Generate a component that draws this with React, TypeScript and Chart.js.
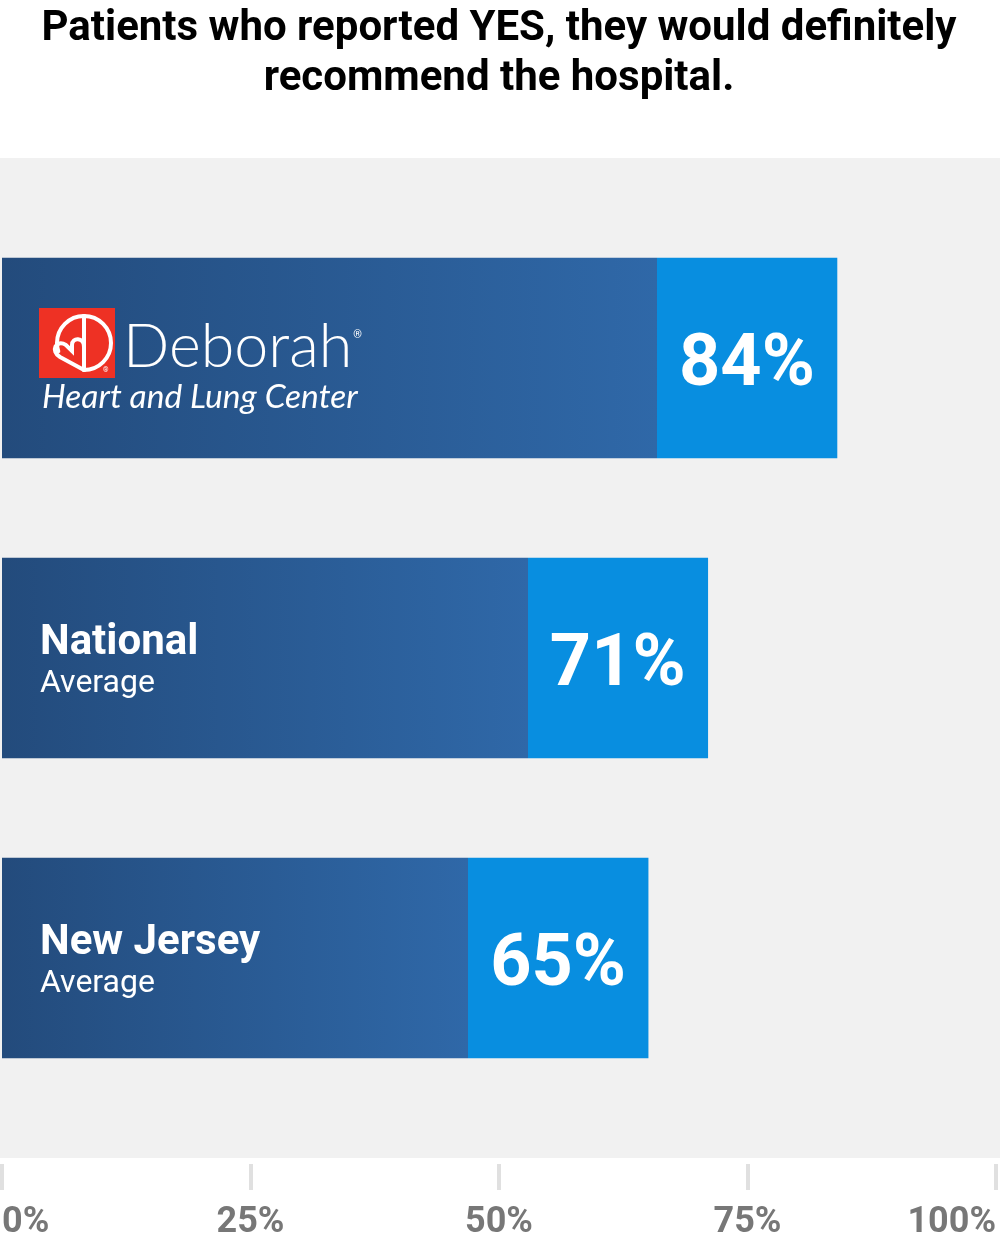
import React, { useEffect, useRef } from 'react';
import { Chart, BarController, BarElement, CategoryScale, LinearScale, Title, Plugin } from 'chart.js';

Chart.register(BarController, BarElement, CategoryScale, LinearScale, Title);

// chart data
const categories = ['Deborah Heart and Lung Center', 'National Average', 'New Jersey Average'];
const labelMain = ['Deborah', 'National', 'New Jersey'];
const labelSub = ['Heart and Lung Center', 'Average', 'Average'];
const values = [84, 71, 65];
const tickValues = [0, 25, 50, 75, 100];
const tickLabels = ['0%', '25%', '50%', '75%', '100%'];
const titleLines = ['Patients who reported YES, they would definitely', 'recommend the hospital.'];

// styling
const DARK_START = '#234b7c';
const DARK_END = '#2f68a8';
const TIP_COLOR = '#088ee0';
const TIP_WIDTH = 180;
const PLOT_BG = '#f1f1f1';
const BG_EXTEND = 50;

const plotBackground: Plugin<'bar'> = {
  id: 'plotBackground',
  beforeDraw(chart) {
    const { ctx, chartArea, width } = chart;
    if (!chartArea) return;
    ctx.save();
    ctx.fillStyle = PLOT_BG;
    ctx.fillRect(0, chartArea.top - BG_EXTEND, width, chartArea.bottom - chartArea.top + BG_EXTEND * 2);
    ctx.restore();
  },
};

function drawLogo(ctx: CanvasRenderingContext2D, left: number, cy: number) {
  // red square
  ctx.fillStyle = '#ee3124';
  ctx.fillRect(left - 1, cy - 50, 76, 70);

  const cx = left + 44;
  const oy = cy - 15;
  const r = 27;
  ctx.strokeStyle = '#fff';
  ctx.lineWidth = 4;
  ctx.lineCap = 'round';
  // D: right half circle + stem
  ctx.beginPath();
  ctx.arc(cx, oy, r, -Math.PI / 2, Math.PI / 2);
  ctx.stroke();
  ctx.beginPath();
  ctx.moveTo(cx, oy - r);
  ctx.lineTo(cx, oy + r);
  ctx.stroke();
  // left upper arc
  ctx.beginPath();
  ctx.arc(cx, oy, r, -Math.PI / 2, -Math.PI * 1.1, true);
  ctx.stroke();
  // heart, tip at the bottom of the stem
  ctx.beginPath();
  ctx.moveTo(cx, oy + r);
  ctx.lineTo(cx - 24, oy + 14);
  ctx.bezierCurveTo(cx - 34, oy + 8, cx - 28, oy - 4, cx - 18, oy + 2);
  ctx.lineTo(cx - 12, oy + 8);
  ctx.lineTo(cx - 12, oy + 2);
  ctx.bezierCurveTo(cx - 12, oy - 6, cx, oy - 6, cx, oy + 4);
  ctx.stroke();
  // registered mark
  ctx.fillStyle = '#fff';
  ctx.font = '400 7px Roboto';
  ctx.textAlign = 'left';
  ctx.fillText('®', left + 63, cy + 14);

  // wordmark
  ctx.font = '300 61px Lato';
  ctx.textBaseline = 'alphabetic';
  ctx.fillText('Deborah', left + 83, cy + 9);
  const w = ctx.measureText('Deborah').width;
  ctx.font = '400 11px Roboto';
  ctx.fillText('®', left + 84 + w, cy - 20);
  ctx.font = 'italic 400 33.5px Lato';
  ctx.fillText(labelSub[0], left + 2, cy + 50);
}

const barLabels: Plugin<'bar'> = {
  id: 'barLabels',
  afterDatasetsDraw(chart) {
    const { ctx } = chart;
    const meta = chart.getDatasetMeta(0);
    ctx.save();
    meta.data.forEach((bar, i) => {
      const { x, y, base } = bar.getProps(['x', 'y', 'base'], true) as { x: number; y: number; base: number };
      ctx.fillStyle = '#fff';
      ctx.textBaseline = 'alphabetic';
      ctx.textAlign = 'center';
      ctx.font = '700 72px Roboto';
      ctx.fillText(`${values[i]}%`, x - TIP_WIDTH / 2, y + 27);

      const left = base + 38;
      ctx.textAlign = 'left';
      if (i === 0) {
        drawLogo(ctx, left, y);
      } else {
        ctx.font = '700 42px Roboto';
        ctx.fillText(labelMain[i], left, y - 4);
        ctx.font = '400 32px Roboto';
        ctx.fillText(labelSub[i], left, y + 34);
      }
    });
    ctx.restore();
  },
};

export default function App() {
  const canvasRef = useRef<HTMLCanvasElement | null>(null);

  useEffect(() => {
    document.body.style.margin = '0';
    const canvas = canvasRef.current;
    if (!canvas) return;

    const chart = new Chart(canvas, {
      type: 'bar',
      data: {
        labels: categories,
        datasets: [{
          data: values,
          xAxisID: 'x',
          yAxisID: 'y',
          barThickness: 200,
          borderWidth: 0,
          backgroundColor: (c: any) => {
            const ch = c.chart;
            const xs = ch.scales?.x;
            if (!ch.chartArea || !xs || c.dataIndex === undefined) return TIP_COLOR;
            const x0 = xs.getPixelForValue(0);
            const x1 = xs.getPixelForValue(values[c.dataIndex]);
            const g = ch.ctx.createLinearGradient(x0, 0, x1, 0);
            const s = Math.max(0, Math.min(1, (x1 - TIP_WIDTH - x0) / (x1 - x0)));
            g.addColorStop(0, DARK_START);
            g.addColorStop(s, DARK_END);
            g.addColorStop(s, TIP_COLOR);
            g.addColorStop(1, TIP_COLOR);
            return g;
          },
        }],
      },
      options: {
        indexAxis: 'y',
        responsive: false,
        animation: false,
        // tick padding also pads the chart sides, so keep it small
        layout: { padding: { left: 2, right: 4, top: 0, bottom: 0 } },
        plugins: {
          legend: { display: false },
          tooltip: { enabled: false },
          title: {
            display: true,
            text: titleLines,
            color: '#000',
            font: { family: 'Roboto', weight: 'bold', size: 42, lineHeight: 50 / 42 },
            padding: { top: 4, bottom: 104 },
          },
        },
        scales: {
          y: {
            type: 'category',
            display: false,
          },
          x: {
            type: 'linear',
            position: 'bottom',
            weight: 0,
            min: 0,
            max: 100,
            grid: { display: false },
            border: { display: false },
            ticks: { display: false },
            afterFit: (s: any) => { s.height = 56; },
          },
          x2: {
            type: 'linear',
            position: 'bottom',
            weight: 1,
            min: 0,
            max: 100,
            grid: { drawOnChartArea: false, drawTicks: true, tickLength: 26, lineWidth: 4, color: '#e0e0e0' },
            border: { display: false },
            ticks: {
              stepSize: 25,
              align: 'inner',
              padding: 2,
              color: '#777777',
              font: { family: 'Roboto', weight: 'bold', size: 36, lineHeight: 1.7 },
              callback: (v: any) => tickLabels[tickValues.indexOf(Number(v))] ?? '',
            },
            afterFit: (s: any) => { s.height = 76; },
          },
        },
      },
      plugins: [plotBackground, barLabels],
    });

    return () => chart.destroy();
  }, []);

  return (
    <div style={{ width: 1000, height: 1240 }}>
      <canvas ref={canvasRef} width={1000} height={1240} style={{ display: 'block' }} />
    </div>
  );
}
